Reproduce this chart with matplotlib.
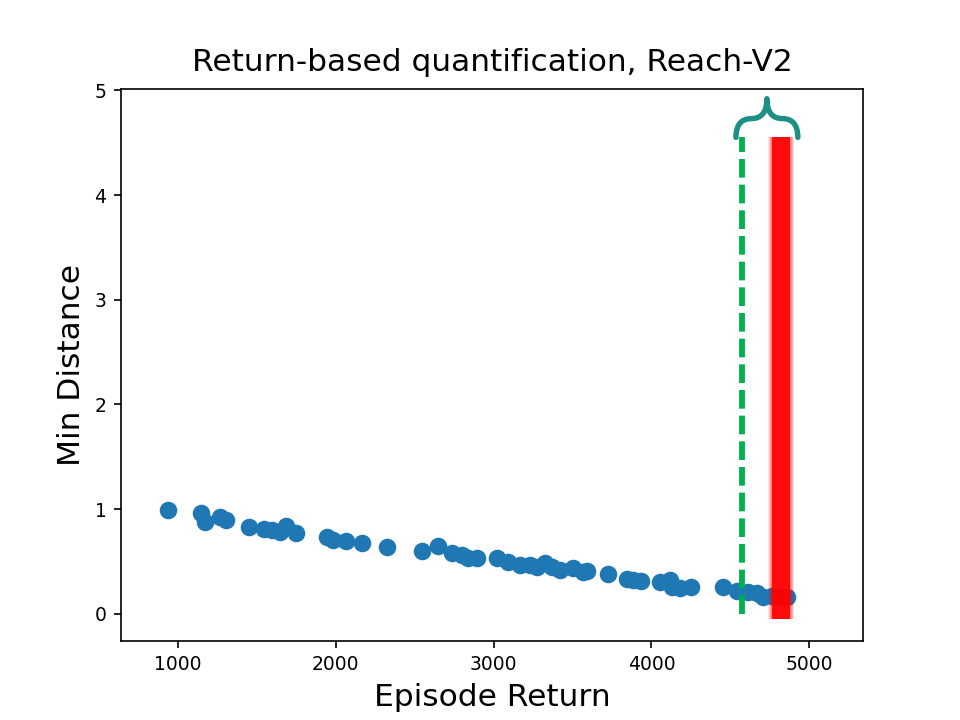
import numpy as np
import matplotlib
matplotlib.use('Agg')
import matplotlib.pyplot as plt
from matplotlib.path import Path
from matplotlib.patches import PathPatch

# Episode return vs min distance
episode_return = [937, 1146, 1171, 1266, 1304, 1450, 1545, 1596, 1646, 1684,
                  1748, 1944, 1982, 2065, 2166, 2324, 2546, 2648, 2736, 2800,
                  2838, 2895, 3022, 3091, 3167, 3231, 3275, 3326, 3370, 3421,
                  3503, 3567, 3592, 3725, 3845, 3883, 3934, 4055, 4118, 4131,
                  4181, 4251, 4454, 4542, 4612, 4669, 4707, 4764, 4815, 4859]
min_distance = [0.99, 0.96, 0.88, 0.93, 0.90, 0.83, 0.81, 0.80, 0.78, 0.84,
                0.77, 0.73, 0.71, 0.70, 0.68, 0.64, 0.60, 0.65, 0.58, 0.56,
                0.53, 0.53, 0.53, 0.50, 0.47, 0.47, 0.45, 0.49, 0.45, 0.42,
                0.44, 0.40, 0.41, 0.38, 0.33, 0.32, 0.31, 0.30, 0.32, 0.26,
                0.25, 0.26, 0.26, 0.22, 0.21, 0.20, 0.16, 0.17, 0.16, 0.16]

# annotation positions (data units)
green_x = 4572
red_x = 4821
red_halfwidth = 55
marker_top = 4.55
red_bottom = -0.05
brace_center = 4731
brace_halfwidth = 196
brace_mid = 4.73
brace_tip = 4.92

fig = plt.figure(figsize=(6.4, 4.8), dpi=150)
ax = fig.add_axes([0.126, 0.11, 0.773, 0.766])

ax.scatter(episode_return, min_distance, s=55, color='#1f77b4', zorder=2)

# green dashed threshold
ax.vlines(green_x, 0, marker_top, colors='#00b050', linewidth=2.8,
          linestyles=(0, (3.2, 1.2)), zorder=3)

# blurry red band: soft edges from stacked faint strips, then solid core
for k in np.linspace(1.05, 1.5, 6):
    ax.fill_betweenx([red_bottom, marker_top], red_x - red_halfwidth * k,
                     red_x + red_halfwidth * k, color='red', alpha=0.12,
                     linewidth=0, zorder=4)
ax.fill_betweenx([red_bottom, marker_top], red_x - red_halfwidth,
                 red_x + red_halfwidth, color='red', alpha=0.9,
                 linewidth=0, zorder=4)

# curly brace on top
xc, w = brace_center, brace_halfwidth
verts = [(xc - w, marker_top), (xc - w, brace_mid), (xc - w / 2, brace_mid),
         (xc, brace_mid), (xc, brace_tip),
         (xc, brace_mid), (xc + w / 2, brace_mid),
         (xc + w, brace_mid), (xc + w, marker_top)]
codes = [Path.MOVETO, Path.CURVE3, Path.CURVE3, Path.CURVE3, Path.CURVE3,
         Path.CURVE3, Path.CURVE3, Path.CURVE3, Path.CURVE3]
ax.add_patch(PathPatch(Path(verts, codes), facecolor='none', edgecolor='#1f8f85',
                       linewidth=2.6, capstyle='round', joinstyle='round', zorder=5))

ax.set_xlim(640, 5340)
ax.set_ylim(-0.257, 5.01)
ax.set_xticks([1000, 2000, 3000, 4000, 5000])
ax.set_yticks([0, 1, 2, 3, 4, 5])
ax.tick_params(labelsize=9)

ax.set_title('Return-based quantification, Reach-V2', fontsize=15, pad=9)
ax.set_xlabel('Episode Return', fontsize=15)
ax.set_ylabel('Min Distance', fontsize=15)

fig.savefig('out.png', dpi=150)
